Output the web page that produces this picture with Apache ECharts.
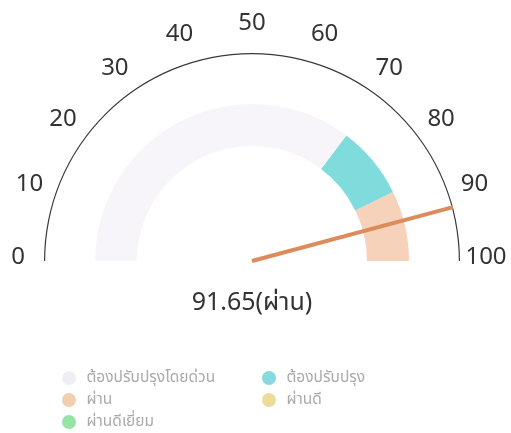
<!DOCTYPE html>
<html>
<head>
<meta charset="utf-8">
<style>html,body{margin:0;padding:0;background:#fff;}#c{width:511px;height:433px;}</style>
<script src="https://cdn.jsdelivr.net/npm/echarts@6/dist/echarts.min.js"></script>
</head>
<body>
<div id="c"></div>
<script>
// Gauge data
var gaugeMin = 0;
var gaugeMax = 100;
var gaugeValue = 91.65;
var gaugeStatus = 'ผ่าน';
// Band thresholds (fraction of range) and colors
var bandStops = [0.705, 0.855, 1];
var bandColors = ['#f7f5fa', '#80dcdc', '#f6d2bb'];
// Legend categories
var legendNames = ['ต้องปรับปรุงโดยด่วน', 'ต้องปรับปรุง', 'ผ่าน', 'ผ่านดี', 'ผ่านดีเยี่ยม'];
var legendColors = ['#f0eef5', '#86d9dd', '#f2cfae', '#ecdc9a', '#96e3a6'];
var legendCol1 = ['ต้องปรับปรุงโดยด่วน', 'ผ่าน', 'ผ่านดีเยี่ยม'];
var legendCol2 = ['ต้องปรับปรุง', 'ผ่านดี'];

var FONT = 'Noto Sans, Noto Sans Thai, sans-serif';
var chart = echarts.init(document.getElementById('c'), null, {renderer: 'canvas'});
var bandColorStops = bandStops.map(function (s, i) { return [s, bandColors[i]]; });

chart.setOption({
  animation: false,
  backgroundColor: '#fff',
  legend: [{
    orient: 'vertical', left: 62, top: 370, padding: 0, height: 80, itemGap: 6, icon: 'circle',
    itemWidth: 25, itemHeight: 14, data: legendCol1,
    textStyle: {color: '#aaaaaa', fontSize: 15.5, fontFamily: FONT}
  }, {
    orient: 'vertical', left: 262, top: 370, padding: 0, height: 80, itemGap: 6, icon: 'circle',
    itemWidth: 25, itemHeight: 14, data: legendCol2,
    textStyle: {color: '#aaaaaa', fontSize: 15.5, fontFamily: FONT}
  }],
  series: [{
    type: 'gauge',
    center: [252, 261], radius: 157,
    startAngle: 180, endAngle: 0, min: gaugeMin, max: gaugeMax,
    axisLine: {lineStyle: {width: 42, color: bandColorStops}},
    axisTick: {show: false}, splitLine: {show: false}, axisLabel: {show: false},
    pointer: {show: false}, title: {show: false}, detail: {show: false},
    data: [{value: gaugeValue}]
  }, {
    type: 'gauge',
    center: [252, 261], radius: 208,
    startAngle: 180, endAngle: 0, min: gaugeMin, max: gaugeMax, splitNumber: 10,
    axisLine: {lineStyle: {width: 1.2, color: [[1, '#3a3a3a']]}},
    axisTick: {show: false},
    splitLine: {show: false, length: 0, distance: 0},
    axisLabel: {
      distance: -27, color: '#333', fontSize: 24, fontFamily: FONT,
      formatter: function (v) { return '{t|' + v + '}'; },
      rich: {t: {width: 2, lineHeight: 2, height: 10, align: 'center', verticalAlign: 'bottom', fontSize: 24, color: '#333', fontFamily: FONT}}
    },
    pointer: {icon: 'rect', width: 4, length: '100%', offsetCenter: [0, 0], itemStyle: {color: '#dc8c5c'}},
    anchor: {show: false},
    title: {show: false},
    detail: {
      offsetCenter: [0, 42], fontSize: 25, color: '#333', fontFamily: FONT, fontWeight: 'normal',
      formatter: function (v) { return v + '(' + gaugeStatus + ')'; }
    },
    data: [{value: gaugeValue}]
  }, {
    type: 'pie', silent: true, center: [-500, -500], radius: [0, 1],
    label: {show: false}, labelLine: {show: false},
    data: legendNames.map(function (n, i) { return {name: n, value: 1, itemStyle: {color: legendColors[i]}}; })
  }]
});
</script>
</body>
</html>
